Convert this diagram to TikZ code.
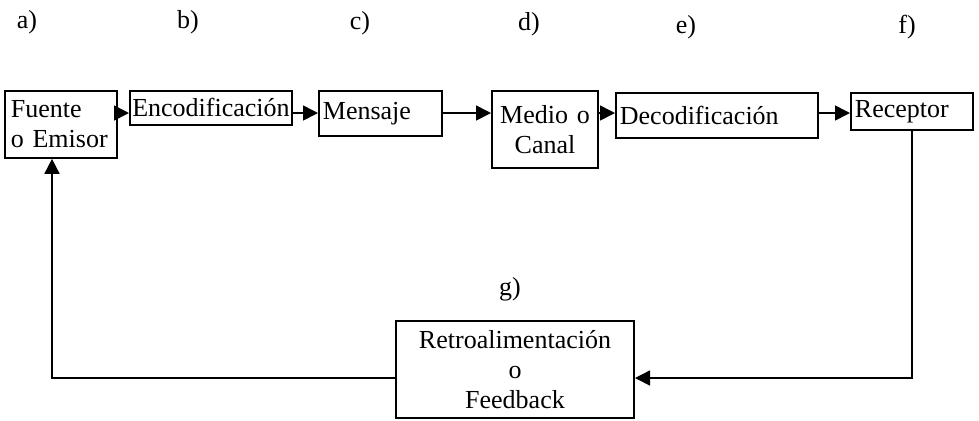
\documentclass[tikz,border=0pt]{standalone}
\usepackage{fontspec}
\setmainfont{Liberation Serif}
\usetikzlibrary{arrows.meta,positioning}
\hyphenpenalty=10000
\exhyphenpenalty=10000

\begin{document}
\begin{tikzpicture}[x=0.5pt, y=-0.5pt,
    font=\fontsize{13}{15}\selectfont,
    blk/.style={rectangle, draw, line width=0.9pt, anchor=north west, inner xsep=2pt, inner ysep=1pt},
    arr/.style={-{Triangle[length=7.5pt, width=7.5pt]}, line width=0.8pt},
    tag/.style={inner sep=0pt}]
    \useasboundingbox (0,0) rectangle (979,420);

    % Fuente
    \node [blk, text width=50.1pt, inner xsep=3pt, minimum height=33.5pt, align=left] (fuente) at (4,90) {Fuente\\o Emisor};

    % Encodificacion
    \node [blk, text width=78.7pt, inner xsep=1.2pt, minimum height=17pt, align=left, right=5.5pt of fuente.north east, anchor=north west] (encod) {Encodificación};

    % Mensaje
    \node [blk, text width=57.6pt, minimum height=22.5pt, align=left, right=12.5pt of encod.north east, anchor=north west] (mensaje) {Mensaje};

    % Medio o Canal
    \node [blk, text width=49.1pt, minimum height=38.5pt, align=center, right=24pt of mensaje.north east, anchor=north west] (medio) {Medio o\\Canal};

    % Decodificacion
    \node [blk, text width=97.1pt, minimum height=22.5pt, align=left, right=8pt of medio.north east, anchor=north west, yshift=-1pt] (decod) {Decodificación};

    % Receptor
    \node [blk, text width=57.1pt, minimum height=18.5pt, align=left, right=15.5pt of decod.north east, anchor=north west] (receptor) {Receptor};

    % Retroalimentacion
    \node [blk, text width=115.1pt, minimum height=48.5pt, align=center] (retro) at (395,320) {Retroalimentación\\o\\Feedback};

    % Letters
    \node [tag] (la) at (27,22) {a)};
    \node [tag] (lb) at (188,22) {b)};
    \node [tag] (lc) at (360,23) {c)};
    \node [tag] (ld) at (529,24) {d)};
    \node [tag] (le) at (686,27) {e)};
    \node [tag] (lf) at (907,27) {f)};
    \node [tag] (lg) at (510,289) {g)};

    % Arrows
    \coordinate (row) at (0,113);
    \coordinate (fb) at (0,378);
    \draw [arr] (fuente.east |- row) -- (encod.west |- row);
    \draw [arr] (encod.east |- row) -- (mensaje.west |- row);
    \draw [arr] (mensaje.east |- row) -- (medio.west |- row);
    \draw [arr] (medio.east |- row) -- (decod.west |- row);
    \draw [arr] (decod.east |- row) -- (receptor.west |- row);
    \draw [arr] (receptor.south) |- (retro.east |- fb);
    \draw [arr] (retro.west |- fb) -| ([xshift=-4.5pt]fuente.south);
\end{tikzpicture}
\end{document}
